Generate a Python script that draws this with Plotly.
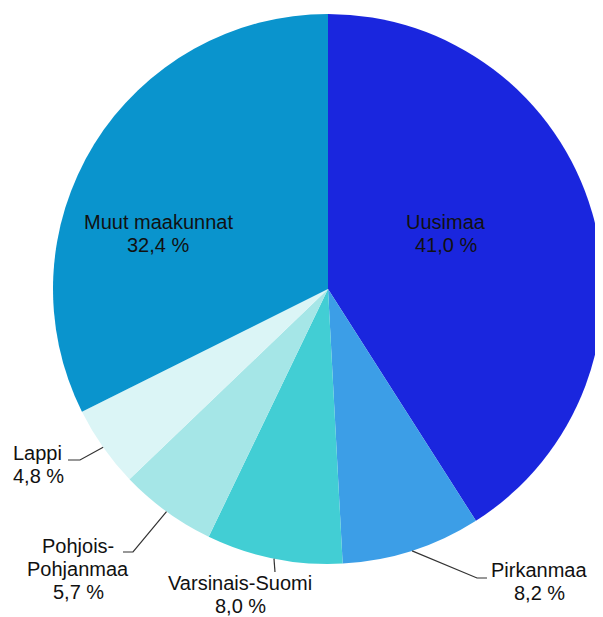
import math
import plotly.graph_objects as go

# ---- data ----
regions = ["Uusimaa", "Pirkanmaa", "Varsinais-Suomi", "Pohjois-Pohjanmaa", "Lappi", "Muut maakunnat"]
label_lines = [["Uusimaa"], ["Pirkanmaa"], ["Varsinais-Suomi"], ["Pohjois-", "Pohjanmaa"], ["Lappi"], ["Muut maakunnat"]]
shares = [41.0, 8.2, 8.0, 5.7, 4.8, 32.4]
colors = ["#1A26DE", "#3C9EE7", "#42CED4", "#A5E6E7", "#DBF5F6", "#0A94CD"]

OFF = 8                 # page body margin
W, H = 603 - OFF, 617 - OFF
CX, CY, R = 328, 289, 275  # pie centre / radius in window pixels (layout)
LINE_H = 23

def px(x):
    return (x - OFF) / W

def py(y):
    return 1 - (y - OFF) / H

fig = go.Figure(go.Pie(
    labels=regions,
    values=shares,
    sort=False,
    direction="clockwise",
    rotation=0,
    marker=dict(colors=colors, line=dict(width=0)),
    textinfo="none",
    hoverinfo="label+percent",
    showlegend=False,
    domain=dict(x=[px(CX - R), px(CX + R)], y=[py(CY + R), py(CY - R)]),
))

fmt = lambda v: f"{v:.1f}".replace(".", ",") + " %"

# label layout: (x, first-line centre y, xanchor, leader elbow/end) in window pixels
label_pos = {
    "Uusimaa": (446, 222, "center", None),
    "Muut maakunnat": (158, 222, "center", None),
    "Pirkanmaa": (539, 570, "center", [(477, 578), (487, 578)]),
    "Varsinais-Suomi": (240, 583, "center", [(275, 572)]),
    "Pohjois-Pohjanmaa": (78, 546, "center", [(133, 552), (123, 552)]),
    "Lappi": (11, 453, "left", [(80, 460), (68, 460)]),
}

total = sum(shares)
cum = 0.0
for name, lines, v in zip(regions, label_lines, shares):
    mid = (cum + v / 2) / total * 2 * math.pi
    cum += v
    x, y0, xa, leader = label_pos[name]
    for i, line in enumerate(lines + [fmt(v)]):
        fig.add_annotation(
            x=px(x), y=py(y0 + i * LINE_H), xref="paper", yref="paper",
            text=line, showarrow=False,
            xanchor=xa, yanchor="middle", align=xa,
            font=dict(family="Liberation Sans, Arial, sans-serif", size=20, color="#111111"),
        )
    if leader:
        sx = CX + R * math.sin(mid)
        sy = CY - R * math.cos(mid)
        pts = [(sx, sy)] + leader
        path = "M " + " L ".join(f"{px(a):.5f},{py(b):.5f}" for a, b in pts)
        fig.add_shape(type="path", path=path, xref="paper", yref="paper",
                      line=dict(color="#333333", width=1.2))

fig.update_layout(
    width=W, height=H,
    margin=dict(l=0, r=0, t=0, b=0),
    paper_bgcolor="white",
    plot_bgcolor="white",
)

fig.write_html("out.html")
